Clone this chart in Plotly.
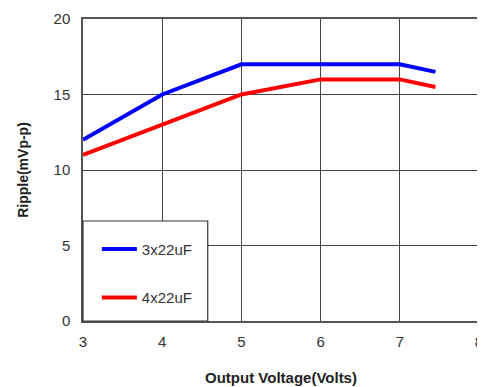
import plotly.graph_objects as go

voltage_3x = [3, 4, 5, 6, 7, 7.45]
ripple_3x = [12, 15, 17, 17, 17, 16.5]
voltage_4x = [3, 4, 5, 6, 7, 7.45]
ripple_4x = [11, 13, 15, 16, 16, 15.5]
names = ["3x22uF", "4x22uF"]

fig = go.Figure()
fig.add_trace(go.Scatter(x=voltage_3x, y=ripple_3x, mode="lines", name=names[0],
                         line=dict(color="#0000ff", width=4), legendgroup="a"))
fig.add_trace(go.Scatter(x=voltage_4x, y=ripple_4x, mode="lines", name=names[1],
                         line=dict(color="#ff0000", width=4), legendgroup="b"))

# legend box
fig.add_shape(type="rect", xref="paper", yref="paper", x0=0, x1=126/400, y0=0, y1=100/302,
              line=dict(color="#333", width=1.2), fillcolor="white", layer="above")

# page has an 8px body margin, so the figure is a bit smaller than the window
fig.update_layout(
    width=477, height=379,
    margin=dict(l=75, r=2, t=11, b=66),
    plot_bgcolor="white", paper_bgcolor="white",
    font=dict(family="Liberation Sans, Arial", size=15, color="#333"),
    showlegend=True,
    legend=dict(x=0.035, y=0.292, xanchor="left", yanchor="top", bgcolor="rgba(0,0,0,0)",
                borderwidth=0, tracegroupgap=26, font=dict(size=15, color="#333"),
                itemwidth=35),
    xaxis=dict(range=[3, 8], dtick=1, showgrid=True, gridcolor="#444", gridwidth=1,
               showline=True, linecolor="#555", linewidth=1.5, mirror=True, zeroline=False,
               ticks="", ticklabelstandoff=6, ticklabeloverflow="allow",
               title=dict(text="<b>Output Voltage(Volts)</b>", font=dict(size=15, color="#222"), standoff=24)),
    yaxis=dict(range=[0, 20], dtick=5, showgrid=True, gridcolor="#444", gridwidth=1,
               showline=True, linecolor="#555", linewidth=1.5, mirror=True, zeroline=False,
               ticks="", ticklabelstandoff=8,
               title=dict(text="<b>Ripple(mVp-p)</b>", font=dict(size=14, color="#222"), standoff=22)),
)

fig.write_html("out.html")
